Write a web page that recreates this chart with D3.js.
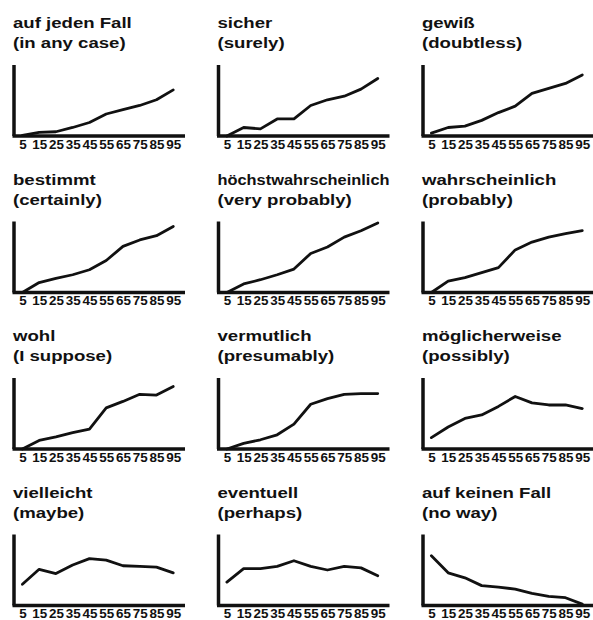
<!DOCTYPE html>
<html>
<head>
<meta charset="utf-8">
<script src="https://cdn.jsdelivr.net/npm/d3@7"></script>
<style>
  html, body { margin: 0; padding: 0; background: #fff; }
  svg { display: block; }
</style>
</head>
<body>
<div id="chart"></div>
<script>
// ---- data ----
const xValues = [5, 15, 25, 35, 45, 55, 65, 75, 85, 95];
const tickLabels = ["5", "15", "25", "35", "45", "55", "65", "75", "85", "95"];
const titlesDe = ["auf jeden Fall", "sicher", "gewiß", "bestimmt", "höchstwahrscheinlich", "wahrscheinlich",
                  "wohl", "vermutlich", "möglicherweise", "vielleicht", "eventuell", "auf keinen Fall"];
const titlesEn = ["(in any case)", "(surely)", "(doubtless)", "(certainly)", "(very probably)", "(probably)",
                  "(I suppose)", "(presumably)", "(possibly)", "(maybe)", "(perhaps)", "(no way)"];

const aufJedenFall        = [1, 5, 6, 12, 19, 31, 37, 43, 51, 65];
const sicher              = [0, 12, 10, 24, 24, 43, 51, 56, 66, 81];
const gewiss              = [4, 12, 14, 22, 33, 42, 60, 67, 74, 86];
const bestimmt            = [0, 14, 20, 25, 32, 45, 65, 74, 80, 93];
const hoechstwahrsch      = [0, 12, 18, 25, 33, 55, 64, 78, 87, 98];
const wahrscheinlich      = [0, 16, 21, 28, 35, 60, 71, 78, 83, 87];
const wohl                = [0, 12, 17, 23, 28, 58, 67, 77, 76, 88];
const vermutlich          = [0, 8, 13, 20, 35, 63, 71, 77, 78, 78];
const moeglicherweise     = [16, 31, 43, 48, 60, 74, 65, 62, 62, 57];
const vielleicht          = [30, 51, 45, 57, 66, 64, 56, 55, 54, 46];
const eventuell           = [33, 52, 52, 55, 63, 55, 50, 55, 53, 42];
const aufKeinenFall       = [70, 46, 39, 28, 26, 23, 17, 13, 11, 2];

const seriesValues = [aufJedenFall, sicher, gewiss, bestimmt, hoechstwahrsch, wahrscheinlich,
                      wohl, vermutlich, moeglicherweise, vielleicht, eventuell, aufKeinenFall];

// ---- layout ----
const W = 593, H = 620;
const colX0 = 14, colStep = 204.5;
const rowY0 = 65, rowStep = 156.5;
const plotW = 171, plotH = 71;
const FONT = "'Liberation Sans', Arial, Helvetica, sans-serif";
const STRETCH = 1.2;
const TICK_STRETCH = 1.12;

const svg = d3.select("#chart").append("svg")
  .attr("width", W).attr("height", H)
  .attr("viewBox", `0 0 ${W} ${H}`);
svg.append("rect").attr("width", W).attr("height", H).attr("fill", "#fff");

const x = d3.scaleLinear().domain([0, 102]).range([0, plotW]);
const y = d3.scaleLinear().domain([0, 100]).range([plotH, 0]);
const line = d3.line().x(d => x(d[0])).y(d => y(d[1]));

seriesValues.forEach((vals, i) => {
  const r = Math.floor(i / 3), c = i % 3;
  const g = svg.append("g")
    .attr("transform", `translate(${colX0 + c * colStep},${rowY0 + r * rowStep})`);

  // titles
  [[titlesDe[i], -37], [titlesEn[i], -17]].forEach(([t, dy]) => {
    const tx = g.append("text")
      .attr("transform", `translate(-1,${dy}) scale(${STRETCH},1)`)
      .attr("font-family", FONT)
      .attr("font-weight", "bold")
      .attr("font-size", 15.5)
      .attr("fill", "#111")
      .text(t);
    const maxW = 172;
    const len = tx.node().getComputedTextLength() * STRETCH;
    if (len > maxW) {
      tx.attr("textLength", maxW / STRETCH).attr("lengthAdjust", "spacingAndGlyphs");
    }
  });

  // x axis
  const xa = g.append("g")
    .attr("transform", `translate(0,${plotH})`)
    .call(d3.axisBottom(x).tickValues(xValues).tickFormat((d, k) => tickLabels[k])
      .tickSize(0).tickPadding(4));
  xa.attr("font-family", FONT).attr("font-size", 12).attr("font-weight", "bold");
  xa.select(".domain").attr("stroke", "#111").attr("stroke-width", 3.5)
    .attr("d", `M-1.5,0H${plotW}`);
  xa.selectAll(".tick text").attr("fill", "#111")
    .attr("transform", `scale(${TICK_STRETCH},1)`);

  // y axis
  const ya = g.append("g")
    .call(d3.axisLeft(y).tickValues([]).tickSizeOuter(0));
  ya.select(".domain").attr("stroke", "#111").attr("stroke-width", 3.5)
    .attr("d", `M0,${plotH}V0`);

  // line
  g.append("path")
    .datum(xValues.map((xv, k) => [xv, vals[k]]))
    .attr("fill", "none")
    .attr("stroke", "#111")
    .attr("stroke-width", 2.8)
    .attr("stroke-linejoin", "round")
    .attr("stroke-linecap", "round")
    .attr("d", line);
});
</script>
</body>
</html>
